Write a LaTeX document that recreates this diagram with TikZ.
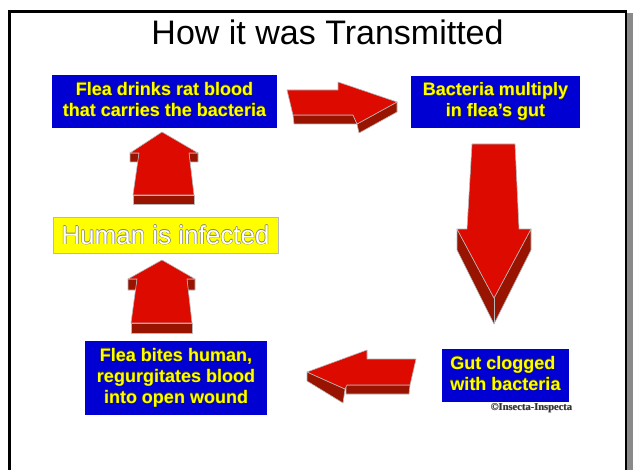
\documentclass[tikz,border=0pt]{standalone}
\usepackage{fontspec}
\setmainfont{Liberation Sans}
\newfontfamily\damgafont{Liberation Serif}
\usepackage{xcolor}
\usetikzlibrary{positioning}
\definecolor{kutuMavi}{HTML}{0000D2}
\definecolor{yaziSari}{HTML}{FFFF00}
\definecolor{yaziGolge}{HTML}{3C3C10}
\definecolor{okKirmizi}{HTML}{DD0A00}
\definecolor{okGolge}{HTML}{981400}
\definecolor{kenarGri}{HTML}{B8B8B8}
\definecolor{cerceveGri}{HTML}{8A8A8A}

\newlength{\kenar}
\newcommand{\kenarli}[4]{%
  \setlength{\kenar}{#3}%
  \leavevmode
  \rlap{\kern-\kenar\textcolor{#2}{#4}}%
  \rlap{\kern\kenar\textcolor{#2}{#4}}%
  \rlap{\raisebox{\kenar}{\textcolor{#2}{#4}}}%
  \rlap{\raisebox{-\kenar}{\textcolor{#2}{#4}}}%
  \textcolor{#1}{#4}}
\newcommand{\satirlar}[2][c]{\begin{tabular}{@{}#1@{}}#2\end{tabular}}

\tikzset{
  mavikutu/.style 2 args={fill=kutuMavi, minimum width=#1, minimum height=#2,
    inner sep=0pt, font={\fontsize{18}{21}\selectfont\bfseries}},
  okyuz/.style={fill=okKirmizi, draw=kenarGri, line width=0.6pt, line join=round},
  okyan/.style={fill=okGolge, draw=kenarGri, line width=0.6pt, line join=round}
}

\begin{document}
\begin{tikzpicture}[x=1pt,y=-1pt]
\useasboundingbox (0,0) rectangle (636,470);
\fill[white] (0,0) rectangle (636,470);
\fill[cerceveGri] (627.1,13) rectangle (633,470);
\draw[line width=2.2pt] (9.5,470)--(9.5,11.5)--(626,11.5)--(626,470);
\node[font={\fontsize{34}{40}\selectfont}, anchor=base] (baslik) at (327.5,45) {How it was Transmitted};

\node[mavikutu={225}{53}] (icme) at (164.5,101.5)
  {\kenarli{yaziSari}{yaziGolge}{0.5pt}{\satirlar{Flea drinks rat blood\\that carries the bacteria}}};
\node[mavikutu={169}{52}] (ureme) at (495.5,102)
  {\kenarli{yaziSari}{yaziGolge}{0.5pt}{\satirlar{Bacteria multiply\\in flea’s gut}}};
\node[mavikutu={127}{53}] (tikanma) at (505.5,375.5)
  {\kenarli{yaziSari}{yaziGolge}{0.5pt}{\satirlar[l]{Gut clogged\\with bacteria}}};
\node[mavikutu={182}{74}] (isirma) at (176,378)
  {\kenarli{yaziSari}{yaziGolge}{0.5pt}{\satirlar{Flea bites human,\\regurgitates blood\\into open wound}}};
\node[fill=yaziSari, draw=kenarGri, line width=0.8pt, minimum width=225, minimum height=36,
  inner sep=0pt, font={\fontsize{26}{30}\selectfont}] (insan) at (165.5,235)
  {\kenarli{white}{gray}{0.6pt}{Human is infected}};
\node[font={\fontsize{10.5}{12}\selectfont\damgafont\bfseries}, inner sep=0pt] (damga) at (531.5,408)
  {\kenarli{black!80}{gray!60}{0.3pt}{©Insecta-Inspecta}};

\draw[okyan] (293,115)--(353,115)--(357,124)--(294,124)--cycle;
\draw[okyan] (357,124)--(397,102)--(397,112)--(359,133)--cycle;
\draw[okyuz] (287,90)--(338,90)--(338,82)--(397,102)--(357,124)--(353,115)--(293,115)--cycle;

\draw[okyan] (457,229)--(457,250)--(494,324)--(531,250)--(531,229)--(494,298)--cycle;
\draw[kenarGri, line width=0.6pt] (494,298)--(494,324);
\draw[okyuz] (472,144)--(515,144)--(519,229)--(531,229)--(494,298)--(457,229)--(467,229)--cycle;

\draw[okyan] (346,385)--(410,385)--(409,394)--(346,394)--cycle;
\draw[okyan] (307,372)--(345,389)--(343,403)--(307,381)--cycle;
\draw[okyuz] (307,372)--(367,350)--(367,359)--(416,359)--(410,385)--(347,385)--(345,389)--cycle;

\draw[okyan] (130,153)--(139,153)--(138,162)--(130,162)--cycle;
\draw[okyan] (189,153)--(198,153)--(198,162)--(190,162)--cycle;
\draw[okyan] (133,195)--(194,195)--(194,204)--(133,204)--cycle;
\draw[okyuz] (162,132)--(198,153)--(189,153)--(194,195)--(133,195)--(139,153)--(130,153)--cycle;

\draw[okyan] (128,279)--(137,279)--(136,290)--(128,290)--cycle;
\draw[okyan] (187,279)--(195,279)--(195,290)--(188,290)--cycle;
\draw[okyan] (131,323)--(192,323)--(192,333)--(131,333)--cycle;
\draw[okyuz] (162,260)--(195,279)--(187,279)--(192,323)--(131,323)--(137,279)--(128,279)--cycle;
\end{tikzpicture}
\end{document}
